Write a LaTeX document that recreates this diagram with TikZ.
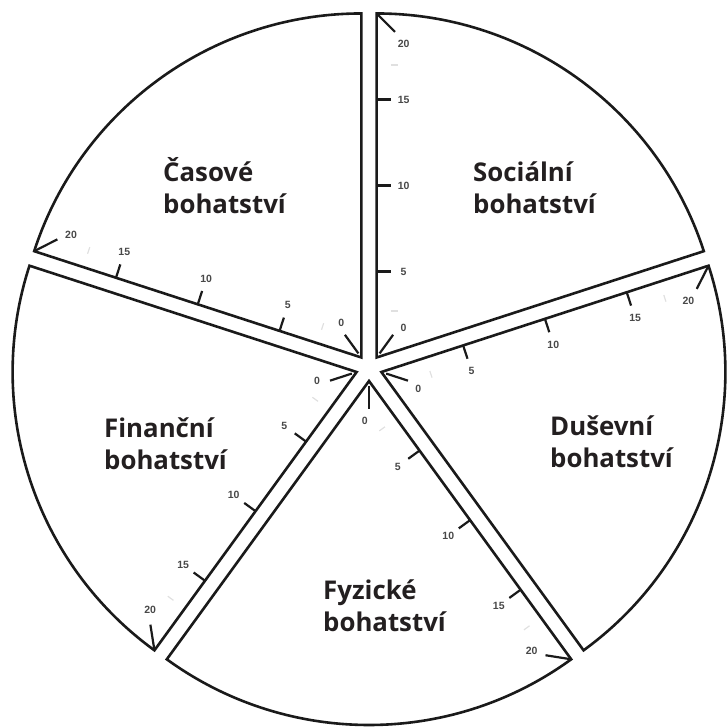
\documentclass[tikz,border=0pt]{standalone}
\usepackage{fontspec}
\setmainfont{Open Sans}
\newfontfamily\ticksfont{Liberation Sans}
\usetikzlibrary{calc}
\definecolor{ink}{HTML}{1A1A1A}
\definecolor{txt}{HTML}{231F20}
\begin{document}
\begin{tikzpicture}[x=1pt,y=1pt,
  edge/.style={draw=ink,line width=2.6pt,line join=miter},
  tickline/.style={draw=ink,line width=2.2pt},
  ticklabel/.style={font=\ticksfont\bfseries\fontsize{10.5}{11}\selectfont,text=ink!80,inner sep=0pt},
  title/.style={font=\bfseries\fontsize{25.8}{31.5}\selectfont,text=txt,align=left,inner sep=0pt,anchor=base west},
  faint/.style={draw=black!12,line width=1.2pt}]
\useasboundingbox (0,0) rectangle (727,727);
\def\R{344}
\def\D{13}
\coordinate (C) at (369,359);
\foreach \a/\nm in {18/soc,90/cas,162/fin,234/fyz,306/dus}{
  \pgfmathsetmacro\bis{\a+36}
  \pgfmathsetmacro\e{\a+72}
  \pgfmathsetmacro\n{\a-18}
  \pgfmathsetmacro\cb{\a+72-135}
  \pgfmathsetmacro\rr{\R-30}
  \pgfmathsetmacro\fa{0.135*\R}
  \pgfmathsetmacro\fb{0.85*\R}
  \coordinate (\nm-apex) at ($(C)+(\bis:\D)$);
  \coordinate (\nm-s) at ($(\nm-apex)+(\a:\R)$);
  \coordinate (\nm-e) at ($(\nm-apex)+(\e:\R)$);
  \draw[edge] (\nm-apex) -- (\nm-s) arc[start angle=\a,end angle=\e,radius=\R] -- cycle;
  % tick 0
  \coordinate (\nm-z0) at ($(\nm-apex)+(\bis:5)$);
  \coordinate (\nm-z1) at ($(\nm-apex)+(\bis:28)$);
  \draw[tickline] (\nm-z0) -- (\nm-z1);
  \node[ticklabel] (\nm-l0) at ($(\nm-apex)+(\e:30)+(\n:27)$) {0};
  % ticks 5 10 15
  \foreach \k in {5,10,15}{
    \pgfmathsetmacro\s{\k*\R/20}
    \coordinate (\nm-t\k) at ($(\nm-apex)+(\e:\s)$);
    \coordinate (\nm-u\k) at ($(\nm-t\k)+(\n:14)$);
    \draw[tickline] (\nm-t\k) -- (\nm-u\k);
    \node[ticklabel] (\nm-l\k) at ($(\nm-t\k)+(\n:27)$) {\k};
  }
  % tick 20
  \coordinate (\nm-w) at ($(\nm-e)+(\cb:26)$);
  \draw[tickline] (\nm-e) -- (\nm-w);
  \node[ticklabel] (\nm-l20) at ($(\nm-apex)+(\e:\rr)+(\n:27)$) {20};
  % faint marks
  \coordinate (\nm-fa) at ($(\nm-apex)+(\e:\fa)+(\n:14)$);
  \coordinate (\nm-fb) at ($(\nm-apex)+(\e:\fb)+(\n:14)$);
  \draw[faint] (\nm-fa) -- ($(\nm-fa)+(\n:7)$);
  \draw[faint] (\nm-fb) -- ($(\nm-fb)+(\n:7)$);
}
\node[title] (cas-title) at (163,513.5) {Časové\\bohatství};
\node[title] (soc-title) at (473,513.5) {Sociální\\bohatství};
\node[title] (fin-title) at (104,257.5) {Finanční\\bohatství};
\node[title] (dus-title) at (550,259.5) {Duševní\\bohatství};
\node[title] (fyz-title) at (323,95.5) {Fyzické\\bohatství};
\end{tikzpicture}
\end{document}
